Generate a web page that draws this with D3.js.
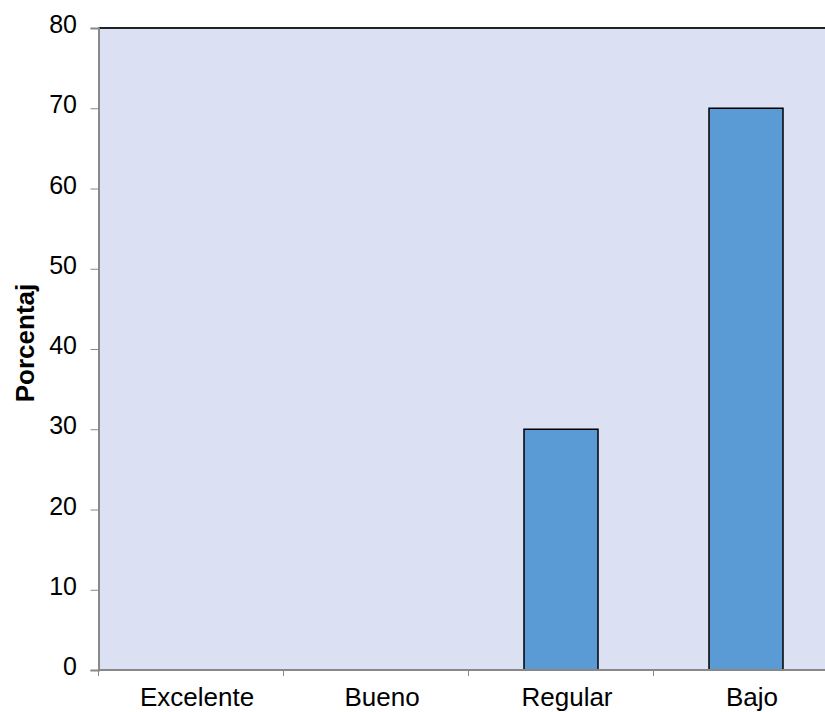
<!DOCTYPE html>
<html><head><meta charset="utf-8">
<script src="https://cdn.jsdelivr.net/npm/d3@7"></script>
<style>body{margin:0;background:#fff}svg{display:block}</style>
</head><body>
<svg id="c" width="825" height="712"></svg>
<script>
const categories = ["Excelente", "Bueno", "Regular", "Bajo"];
const values = [0, 0, 30, 70];
const yTicks = [0, 10, 20, 30, 40, 50, 60, 70, 80];
const yTitle = "Porcentaj";

(function () {
const svg = d3.select("#c");
const pl = 98.5, pr = 838.5, pt = 28, pb = 670;
const x = d3.scaleBand().domain(categories).range([pl, pr]).paddingInner(0.6).paddingOuter(0.3);
const xb = d3.scaleBand().domain(categories).range([pl, pr]);
const y = d3.scaleLinear().domain([0, 80]).range([pb, pt]);
const font = "'Liberation Sans', Arial, sans-serif";

svg.append("rect").attr("x", pl).attr("y", pt).attr("width", pr - pl).attr("height", pb - pt)
  .attr("fill", "#DBE0F3");
svg.append("line").attr("x1", pl).attr("x2", pr).attr("y1", pt).attr("y2", pt)
  .attr("stroke", "#222").attr("stroke-width", 2);

svg.selectAll(".bar").data(categories.map((c, i) => ({c, v: values[i]})).filter(d => d.v > 0))
  .enter().append("rect")
  .attr("x", d => x(d.c)).attr("width", x.bandwidth())
  .attr("y", d => y(d.v)).attr("height", d => y(0) - y(d.v))
  .attr("fill", "#5B9BD5").attr("stroke", "#000").attr("stroke-width", 1.5);

const yAxis = svg.append("g").attr("transform", `translate(${pl},0)`)
  .call(d3.axisLeft(y).tickValues(yTicks).tickSize(8).tickPadding(13.5).tickFormat(d3.format("d")));
yAxis.select(".domain").attr("stroke", "#888").attr("stroke-width", 2);
yAxis.selectAll(".tick line").attr("stroke", "#888");
yAxis.selectAll("text").attr("font-family", font).attr("font-size", 25).attr("fill", "#000")
  .attr("y", -3.5);

const xAxis = svg.append("g").attr("transform", `translate(0,${pb})`)
  .call(d3.axisBottom(xb).tickSize(0).tickPadding(0));
xAxis.select(".domain").remove();
xAxis.append("line").attr("x1", pl).attr("x2", pr).attr("stroke", "#888").attr("stroke-width", 2);
xAxis.selectAll(".tick text").attr("font-family", font).attr("font-size", 26).attr("fill", "#000")
  .attr("y", 35.5).attr("dy", 0).attr("dx", 6);
xAxis.selectAll(".sep").data(categories).enter().append("line")
  .attr("x1", d => xb(d)).attr("x2", d => xb(d)).attr("y1", 0).attr("y2", 6)
  .attr("stroke", "#888");

svg.append("text").attr("transform", `translate(33.5,${343}) rotate(-90)`)
  .attr("text-anchor", "middle").attr("font-family", font).attr("font-weight", "bold")
  .attr("font-size", 26).text(yTitle);
})();
</script>
</body></html>
